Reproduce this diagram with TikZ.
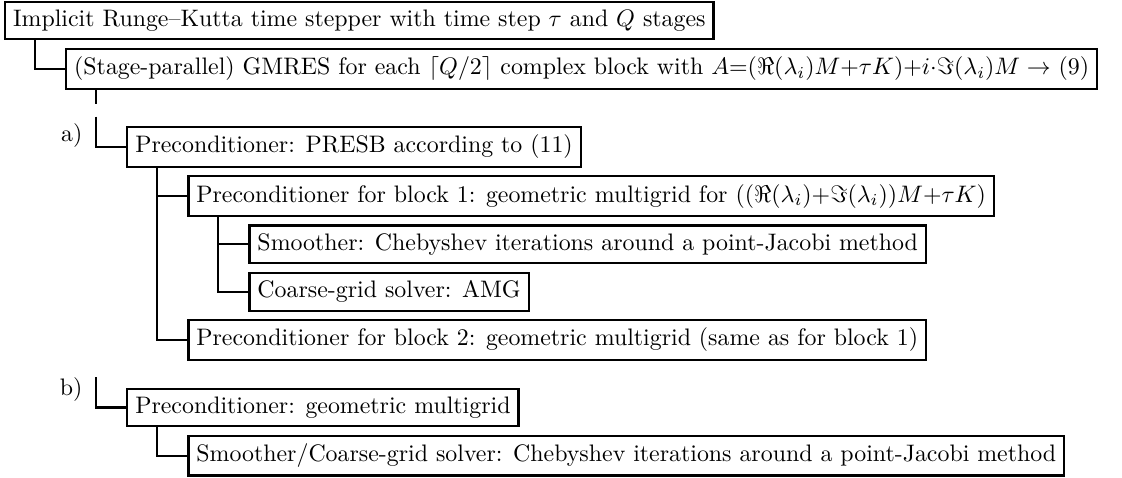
\documentclass[tikz,border=0pt]{standalone}
\usepackage{amssymb,amsmath}
\usetikzlibrary{positioning}
\usetikzlibrary{calc}

\begin{document}
\begin{tikzpicture}
	\tikzstyle{stage}=[draw,rectangle,line width=0.9pt,inner sep=3.33pt,anchor=north west]
	\tikzstyle{tag}=[inner sep=0pt]
	\tikzstyle{link}=[line width=0.9pt]

	\useasboundingbox (0,0) rectangle (470.1pt,-199.9pt);

	\node[stage] (rk) at (1.7pt,-0.4pt) {Implicit Runge--Kutta time stepper with time step $\tau$ and $Q$ stages};
	\node[stage] (gmres) [below right=3.1pt and 25.6pt of rk.south west] {(Stage-parallel) GMRES for each $\lceil Q/2\rceil$ complex block with $A{=}(\Re(\lambda_i)M{+}\tau K){+}i{\cdot}\Im(\lambda_i)M \rightarrow$ (9)};
	\node[stage] (presb) [below right=15.1pt and 25.6pt of gmres.south west] {Preconditioner: PRESB according to (11)};
	\node[stage] (blk1) [below right=3.1pt and 25.6pt of presb.south west] {Preconditioner for block 1: geometric multigrid for $((\Re(\lambda_i){+}\Im(\lambda_i))M{+}\tau K)$};
	\node[stage] (smooth1) [below right=3.1pt and 25.6pt of blk1.south west] {Smoother: Chebyshev iterations around a point-Jacobi method};
	\node[stage] (coarse1) [below right=3.1pt and 0pt of smooth1.south west] {Coarse-grid solver: AMG};
	\node[stage] (blk2) at ($(coarse1.south -| blk1.west)+(0,-3.1pt)$) {Preconditioner for block 2: geometric multigrid (same as for block 1)};
	\node[stage] (geo) at ($(blk2.south -| presb.west)+(0,-11.2pt)$) {Preconditioner: geometric multigrid};
	\node[stage] (smooth2) [below right=3.1pt and 25.6pt of geo.south west] {Smoother/Coarse-grid solver: Chebyshev iterations around a point-Jacobi method};

	% tree lines
	\draw[link] ($(rk.south west)+(12.8pt,0)$) |- (gmres.west);
	\coordinate (stub) at ($(gmres.south west)+(12.8pt,-5.9pt)$);
	\draw[link] (stub |- gmres.south) -- (stub);

	% option a)
	\coordinate (optA) at ($(presb.west)+(-12.8pt,12.6pt)$);
	\draw[link] (optA) |- (presb.west);
	\node[tag,anchor=base east] (lblA) at ($(presb.west)+(-18.2pt,2.1pt)$) {a)};
	\draw[link] ($(presb.south west)+(12.8pt,0)$) |- (blk1.west);
	\draw[link] ($(presb.south west)+(12.8pt,0)$) |- (blk2.west);
	\draw[link] ($(blk1.south west)+(12.8pt,0)$) |- (smooth1.west);
	\draw[link] ($(blk1.south west)+(12.8pt,0)$) |- (coarse1.west);

	% option b)
	\coordinate (optB) at ($(geo.west)+(-12.8pt,12.6pt)$);
	\draw[link] (optB) |- (geo.west);
	\node[tag,anchor=north east] (lblB) at ($(optB)+(-5.4pt,0)$) {b)};
	\draw[link] ($(geo.south west)+(12.8pt,0)$) |- (smooth2.west);
\end{tikzpicture}
\end{document}
